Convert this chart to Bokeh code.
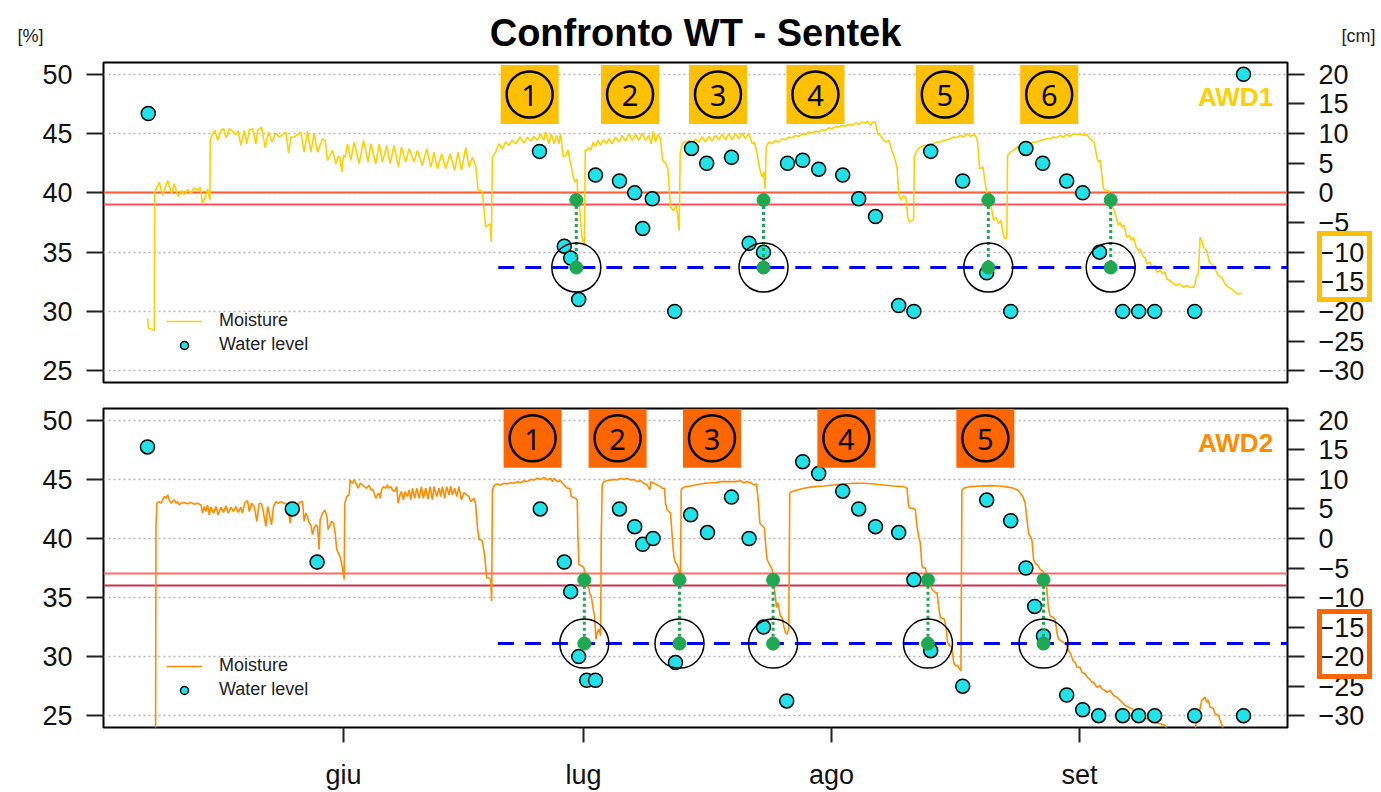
from bokeh.plotting import figure
from bokeh.models import (Range1d, LinearAxis, FixedTicker, Label, Legend, LegendItem, Div)
from bokeh.layouts import column
from bokeh.embed import file_html
from bokeh.resources import INLINE
from bokeh.core.properties import value

# ------------------------------------------------------------------ data
# x values are day-of-year (1 Jun = 152)
month_ticks = [152, 182, 213, 244]
month_labels = ["giu", "lug", "ago", "set"]
pct_ticks = [25, 30, 35, 40, 45, 50]
cm_ticks = [-30, -25, -20, -15, -10, -5, 0, 5, 10, 15, 20]
title_text = "Confronto WT - Sentek"
left_unit = "[%]"
right_unit = "[cm]"

# ---- AWD1 (top panel)
awd1_moisture = [
    (127.52, 29.4), (127.6, 28.6), (128.35, 28.4), (128.4, 40.06), (128.97, 40.9), (129.39, 39.78),
    (130.02, 41.05), (130.52, 39.92), (130.84, 40.77), (131.34, 39.7), (131.77, 40.2), (132.09, 39.86),
    (132.52, 40.26), (132.93, 39.97), (133.34, 40.43), (133.77, 40.2), (134.09, 40.48), (134.39, 39.08),
    (134.8, 39.78), (135.01, 40.35), (135.3, 39.36), (135.34, 44.43),
    (135.64, 44.99), (135.93, 45.27), (136.26, 44.43), (136.68, 45.27), (137.01, 45.41), (137.34, 44.65),
    (137.72, 45.41), (138.13, 45.21), (138.47, 44.93), (138.84, 45.21), (139.17, 44.0), (139.59, 45.27),
    (139.92, 44.14), (140.22, 45.27), (140.63, 45.41), (141.05, 44.14), (141.26, 45.27), (141.76, 45.55),
    (142.21, 43.81), (142.63, 45.13), (143.05, 44.29), (143.55, 45.05), (143.96, 44.71), (144.38, 44.93),
    (144.8, 45.13), (145.13, 43.36), (145.42, 44.71), (145.84, 44.71), (146.25, 44.93), (146.67, 45.13),
    (147.08, 43.44), (147.5, 45.21), (147.92, 43.44), (148.33, 44.99), (148.75, 43.44), (149.38, 44.57),
    (149.71, 44.43), (150.0, 42.74), (150.42, 43.3), (150.62, 43.58), (151.04, 42.46), (151.33, 43.02),
    (151.54, 43.02), (151.79, 41.75), (152.0, 43.16), (152.21, 43.02), (152.5, 44.14), (152.91, 42.74),
    (153.33, 44.29), (153.95, 42.46), (154.5, 44.43), (155.08, 42.6), (155.41, 44.14), (156.04, 42.46),
    (156.45, 44.14), (156.87, 42.6), (157.41, 44.0), (157.83, 42.46), (158.32, 44.0), (158.87, 42.17),
    (159.24, 43.86), (159.78, 42.6), (160.2, 43.72), (160.82, 42.6), (161.24, 43.58), (161.86, 42.31),
    (162.41, 43.72), (162.91, 42.17), (163.32, 43.44), (163.74, 42.03), (164.28, 43.3), (164.78, 42.03),
    (165.32, 43.3), (165.9, 41.89), (166.32, 43.44), (166.74, 41.89), (167.28, 43.81), (167.69, 42.17),
    (168.11, 43.02), (168.53, 42.31), (168.82, 40.2), (169.15, 40.2), (169.36, 40.06), (169.77, 37.11),
    (169.98, 37.25), (170.31, 37.39), (170.48, 35.84), (170.61, 43.02), (171.02, 43.44), (171.44, 44.14),
    (171.86, 43.72), (172.27, 44.29), (172.69, 44.0), (173.1, 44.43), (173.52, 44.14), (174.06, 44.71),
    (174.56, 44.2), (174.98, 44.71), (175.39, 44.37), (175.81, 44.76), (176.22, 44.43), (176.64, 44.99),
    (177.06, 44.43), (177.27, 45.13), (177.68, 44.14), (177.97, 44.99), (178.31, 44.14), (178.64, 44.85),
    (178.93, 44.14), (179.14, 44.99), (179.47, 43.02), (179.81, 43.16), (180.06, 43.64), (180.39, 42.46),
    (180.72, 41.33), (180.97, 40.91), (181.18, 41.19), (181.3, 39.5), (181.55, 38.51), (181.8, 36.26),
    (182.1, 35.5), (182.22, 43.64),
    (182.39, 43.58), (182.68, 43.86), (182.89, 43.58), (183.22, 44.29), (183.51, 43.92), (183.8, 44.43),
    (184.14, 44.0), (184.47, 44.48), (184.88, 44.14), (185.18, 44.57), (185.59, 44.14), (186.01, 44.71),
    (186.42, 44.29), (186.84, 44.85), (187.26, 44.37), (187.67, 44.99), (188.09, 44.43), (188.51, 44.93),
    (188.92, 44.43), (189.34, 45.05), (189.75, 44.43), (190.17, 44.85), (190.46, 44.14), (190.71, 45.21),
    (191.0, 44.29), (191.3, 44.93), (191.63, 44.57), (191.88, 42.74), (192.29, 42.46), (192.54, 42.03),
    (192.88, 38.8), (193.21, 38.51), (193.63, 38.94), (193.96, 36.83), (194.09, 43.3),
    (194.33, 44.14), (194.75, 44.29), (195.17, 44.43), (195.58, 44.14), (196.0, 44.57), (196.42, 44.29),
    (196.83, 44.71), (197.25, 44.29), (197.67, 44.76), (198.08, 44.37), (198.5, 44.85), (198.91, 44.48),
    (199.33, 44.93), (199.75, 44.48), (200.16, 44.99), (200.58, 44.48), (201.0, 44.99), (201.41, 44.57),
    (201.83, 45.05), (202.24, 44.57), (202.66, 45.05), (203.08, 44.14), (203.37, 44.29), (203.7, 43.3),
    (204.03, 42.03), (204.33, 41.33), (204.54, 41.75), (204.7, 40.34), (204.83, 43.86),
    (205.16, 44.29), (205.58, 44.14), (205.99, 44.43), (206.41, 44.29), (206.82, 44.57), (207.24, 44.48),
    (207.66, 44.71), (208.07, 44.65), (208.49, 44.85), (208.91, 44.76), (209.32, 44.99), (209.74, 44.9),
    (210.15, 45.13), (210.57, 45.05), (210.99, 45.21), (211.4, 45.13), (211.82, 45.33), (212.24, 45.27),
    (212.65, 45.5), (213.07, 45.41), (213.48, 45.61), (213.9, 45.55), (214.32, 45.69), (214.73, 45.61),
    (215.15, 45.78), (215.57, 45.69), (215.98, 45.89), (216.4, 45.78), (216.81, 45.97), (217.23, 45.89),
    (217.52, 46.06), (217.86, 45.69), (218.19, 45.97), (218.48, 45.97), (218.77, 44.99), (219.11, 44.85),
    (219.52, 44.43), (219.86, 44.29), (220.15, 44.43), (220.56, 43.58), (220.85, 43.02), (221.19, 42.17),
    (221.4, 39.92), (221.69, 39.36), (222.02, 39.78), (222.35, 39.5), (222.52, 37.95), (222.77, 37.53),
    (223.06, 37.67), (223.27, 37.81), (223.35, 43.02), (223.68, 43.58), (224.1, 43.86), (224.52, 44.0),
    (224.93, 44.0), (225.35, 44.14), (225.77, 44.14), (226.18, 44.29), (226.6, 44.29), (227.01, 44.43),
    (227.43, 44.48), (227.85, 44.57), (228.26, 44.71), (228.68, 44.65), (229.1, 44.85), (229.51, 44.71),
    (229.93, 44.99), (230.35, 44.76), (230.76, 44.93), (231.09, 44.71), (231.26, 44.29), (231.51, 42.03),
    (231.93, 42.17), (232.22, 40.77), (232.51, 39.64), (232.84, 39.08), (233.05, 38.51), (233.26, 37.67),
    (233.59, 37.95), (233.88, 37.39), (234.17, 37.67), (234.51, 36.4), (234.72, 36.12), (234.92, 36.26),
    (235.01, 43.16), (235.34, 43.44), (235.76, 43.58), (236.17, 43.86), (236.59, 43.86), (237.01, 44.0),
    (237.42, 44.14), (237.84, 44.14), (238.26, 44.29), (238.67, 44.29), (239.09, 44.43), (239.5, 44.48),
    (239.92, 44.57), (240.34, 44.57), (240.75, 44.71), (241.17, 44.65), (241.59, 44.85), (242.0, 44.71),
    (242.42, 44.93), (242.83, 44.76), (243.25, 44.99), (243.67, 44.93), (244.08, 44.99), (244.5, 44.85),
    (244.92, 44.93), (245.33, 44.57), (245.54, 44.43), (245.83, 44.29), (246.17, 43.02), (246.37, 42.6),
    (246.58, 42.74), (247.0, 40.34), (247.33, 40.2), (247.62, 40.2), (247.83, 39.64), (248.04, 38.94),
    (248.33, 38.51), (248.58, 37.95), (248.87, 37.25), (249.08, 37.53), (249.29, 37.11), (249.58, 37.25),
    (249.91, 36.26), (250.24, 36.4), (250.54, 35.98), (250.74, 36.26), (251.08, 35.42), (251.37, 35.14),
    (251.58, 35.28), (251.99, 34.57), (252.2, 34.57), (252.41, 34.01), (252.83, 34.15), (253.03, 33.73),
    (253.45, 33.87), (253.66, 33.31), (254.08, 33.45), (254.41, 33.17), (254.7, 33.31), (254.91, 32.74),
    (255.32, 32.6), (255.74, 32.32), (256.16, 32.18), (256.57, 32.32), (256.99, 32.04), (257.41, 32.18),
    (257.82, 32.04), (258.24, 32.04), (258.45, 32.32), (258.57, 32.88), (258.86, 33.16), (259.07, 36.26),
    (259.28, 35.98), (259.49, 35.42), (259.9, 35.14), (260.24, 34.15), (260.53, 34.01), (260.94, 33.59),
    (261.36, 33.02), (261.78, 32.88), (262.19, 32.32), (262.61, 32.04), (263.03, 31.9), (263.44, 31.62),
    (263.86, 31.48), (264.27, 31.53),
]
awd1_level_day = [127.6, 176.5, 179.6, 180.4, 181.4, 183.5, 186.5, 188.4, 189.4, 190.6, 193.4, 195.5,
                  197.4, 200.5, 202.7, 204.5, 207.5, 209.4, 211.4, 214.4, 216.4, 218.5, 221.4, 223.3,
                  225.4, 229.4, 232.4, 235.4, 237.3, 239.4, 242.4, 244.4, 246.5, 249.4, 251.4, 253.4,
                  258.4, 264.5]
awd1_level_cm = [13.4, 7.0, -9.0, -11.0, -18.0, 3.0, 2.0, 0.0, -6.0, -1.0, -20.0, 7.5,
                 5.0, 6.0, -8.5, -10.0, 5.0, 5.5, 4.0, 3.0, -1.0, -4.0, -19.0, -20.0,
                 7.0, 2.0, -13.5, -20.0, 7.5, 5.0, 2.0, 0.0, -10.0, -20.0, -20.0, -20.0,
                 -20.0, 20.0]
awd1_thresholds = [40.0, 39.0]
awd1_event_day = [181.1, 204.5, 232.6, 247.9]
awd1_event_moist = 39.4
awd1_wt_cm = -12.6
awd1_wt_start = 171.35
awd1_badge_day = [175.27, 187.82, 198.81, 210.99, 227.16, 240.21]
awd1_badge_num = ["1", "2", "3", "4", "5", "6"]
awd1_badge_pct = 48.3
awd1_axis_box_cm = (-6.9, -18.0)

# ---- AWD2 (bottom panel)
awd2_moisture = [
    (127.5, 20.0), (128.5, 20.0), (128.56, 41.02), (128.68, 42.98), (128.97, 43.12), (129.18, 42.98),
    (129.39, 43.27), (129.6, 43.55), (129.81, 43.4), (130.02, 43.69), (130.22, 43.27), (130.43, 42.98),
    (130.64, 43.12), (130.85, 43.27), (131.06, 42.98), (131.26, 43.12), (131.47, 42.84), (131.68, 42.98),
    (132.1, 43.04), (132.51, 42.93), (132.93, 43.04), (133.35, 42.9), (133.76, 42.98), (134.18, 42.84),
    (134.39, 42.14), (134.6, 42.7), (134.8, 42.28), (135.01, 42.84), (135.22, 42.0), (135.43, 42.65),
    (135.76, 42.14), (136.05, 42.7), (136.34, 42.0), (136.68, 42.65), (137.01, 42.2), (137.3, 42.76),
    (137.59, 42.14), (137.93, 42.65), (138.26, 42.28), (138.55, 42.7), (138.84, 42.2), (139.17, 42.65),
    (139.38, 42.14), (139.67, 43.04), (140.01, 43.21), (140.22, 42.28), (140.51, 42.98), (140.84, 42.7),
    (141.17, 41.44), (141.46, 42.98), (141.76, 42.93), (142.01, 42.14), (142.3, 41.02), (142.51, 42.7),
    (142.71, 42.14), (143.0, 41.16), (143.25, 42.7), (143.55, 43.12), (143.84, 42.98), (144.17, 43.12),
    (144.59, 42.98), (145.0, 42.84), (145.34, 41.3), (145.63, 42.7), (146.04, 42.84), (146.25, 42.42),
    (146.46, 43.04), (146.88, 43.12), (147.08, 41.44), (147.29, 42.14), (147.5, 41.86), (147.71, 41.3),
    (147.92, 41.16), (148.13, 40.32), (148.33, 40.88), (148.54, 41.16), (148.75, 41.02), (148.96, 39.06),
    (149.08, 41.58), (149.37, 42.14), (149.67, 42.42), (149.92, 41.86), (150.08, 40.74), (150.33, 41.16),
    (150.5, 41.44), (150.75, 41.3), (150.96, 40.46), (151.16, 39.06), (151.46, 38.64), (151.66, 38.22),
    (151.87, 37.51), (152.08, 36.53), (152.16, 42.98), (152.41, 43.55), (152.7, 43.69), (152.83, 44.95),
    (153.12, 44.67), (153.33, 44.95), (153.66, 44.53), (153.83, 44.25), (154.08, 44.67), (154.37, 44.53),
    (154.58, 44.39), (154.91, 44.25), (155.2, 44.53), (155.41, 44.11), (155.62, 44.16), (155.83, 43.83),
    (156.04, 43.4), (156.24, 43.69), (156.45, 43.83), (156.58, 43.4), (156.74, 44.11), (156.99, 44.39),
    (157.28, 44.25), (157.49, 44.53), (157.7, 44.25), (157.91, 44.39), (158.12, 44.11), (158.41, 43.97),
    (158.66, 44.39), (158.82, 42.98), (159.07, 43.69), (159.24, 43.97), (159.49, 43.27), (159.7, 43.97),
    (159.99, 43.55), (160.2, 44.11), (160.41, 43.27), (160.62, 44.25), (160.91, 43.4), (161.16, 44.25),
    (161.45, 43.4), (161.74, 44.39), (161.99, 43.4), (162.28, 44.25), (162.57, 43.32), (162.82, 44.39),
    (163.11, 43.27), (163.32, 44.39), (163.65, 43.55), (163.95, 44.25), (164.15, 43.55), (164.36, 44.39),
    (164.65, 43.4), (164.9, 44.39), (165.19, 43.69), (165.4, 44.44), (165.61, 43.69), (165.9, 44.25),
    (166.15, 43.55), (166.44, 44.39), (166.73, 43.27), (167.07, 43.88), (167.4, 43.69), (167.69, 43.55),
    (167.9, 43.12), (168.11, 43.27), (168.32, 43.4), (168.53, 42.84), (168.73, 41.02), (168.94, 39.9),
    (169.15, 39.9), (169.36, 39.76), (169.65, 38.5), (169.9, 36.67), (170.19, 36.67), (170.4, 36.53),
    (170.52, 34.71), (170.61, 44.11), (170.9, 44.53), (171.23, 44.61), (171.65, 44.53), (172.06, 44.67),
    (172.48, 44.61), (172.9, 44.72), (173.31, 44.67), (173.73, 44.81), (174.15, 44.72),
    (174.56, 44.89), (174.98, 44.81), (175.39, 45.0), (175.81, 44.95), (176.22, 45.09), (176.64, 45.0),
    (177.06, 45.17), (177.47, 44.95), (177.89, 45.09), (178.1, 44.81), (178.31, 45.09), (178.72, 44.81),
    (179.14, 44.89), (179.35, 44.67), (179.56, 44.53), (179.76, 44.39), (179.97, 44.25), (180.3, 44.25),
    (180.47, 43.55), (180.72, 43.49), (181.01, 43.4), (181.22, 43.27), (181.3, 40.18), (181.43, 37.79),
    (181.85, 37.65), (182.05, 37.51), (182.26, 36.53), (182.47, 35.97), (182.68, 35.83), (182.8, 35.27),
    (182.97, 35.13), (183.22, 34.0), (183.39, 33.44), (183.55, 31.48), (183.72, 32.04), (183.93, 32.32),
    (184.14, 31.76), (184.22, 40.18), (184.34, 44.53), (184.55, 44.81), (184.88, 44.89), (185.38, 44.95),
    (185.8, 45.0), (186.22, 44.95), (186.63, 45.09), (187.05, 45.0), (187.47, 45.09), (187.88, 44.95),
    (188.3, 45.0), (188.71, 44.81), (189.13, 44.89), (189.55, 44.67), (189.96, 44.53), (190.17, 44.25),
    (190.3, 44.11), (190.38, 44.81), (190.8, 44.67), (191.21, 44.53), (191.63, 44.39), (191.84, 44.25),
    (192.13, 44.25), (192.25, 42.98), (192.46, 42.42), (192.67, 42.28), (192.88, 42.14), (193.09, 40.18),
    (193.29, 38.5), (193.5, 37.93), (193.71, 37.79), (193.92, 37.37), (194.04, 36.81), (194.13, 36.81),
    (194.21, 44.11), (194.34, 44.25), (194.75, 44.39), (195.38, 44.44), (196.0, 44.53), (196.62, 44.61),
    (197.25, 44.67), (197.87, 44.72), (198.5, 44.72), (199.12, 44.81), (199.75, 44.81), (200.37, 44.81),
    (200.99, 44.81), (201.62, 44.89), (202.04, 44.72), (202.45, 44.81), (202.87, 44.72), (203.29, 44.53),
    (203.62, 44.61), (203.79, 43.55), (203.91, 42.7), (204.04, 41.3), (204.2, 41.16), (204.45, 41.02),
    (204.62, 40.88), (204.78, 39.34), (204.95, 38.22), (205.16, 37.93), (205.37, 37.65), (205.58, 37.37),
    (205.78, 36.53), (205.87, 35.69), (205.99, 35.13), (206.12, 34.15), (206.28, 34.57), (206.45, 34.0),
    (206.62, 33.44), (206.82, 33.3), (207.03, 32.6), (207.24, 32.04), (207.45, 31.9), (207.66, 32.32),
    (207.78, 43.83), (208.07, 43.97), (208.7, 44.11), (209.53, 44.25), (210.78, 44.39), (212.03, 44.44),
    (213.28, 44.53), (214.53, 44.61), (215.78, 44.67), (217.03, 44.67), (218.27, 44.61), (219.52, 44.53),
    (220.77, 44.44), (222.02, 44.39), (222.44, 44.25), (222.64, 42.7), (222.85, 42.56), (223.27, 42.56),
    (223.48, 42.42), (223.69, 41.02), (223.89, 40.18), (224.1, 39.62), (224.31, 37.65), (224.52, 37.51),
    (224.73, 37.51), (224.94, 36.81), (225.14, 36.53), (225.35, 36.11), (225.56, 35.69), (225.77, 35.55),
    (225.98, 35.41), (226.19, 35.41), (226.39, 34.29), (226.6, 33.3), (226.93, 33.22), (227.1, 33.16),
    (227.35, 32.32), (227.51, 31.2), (227.76, 30.92), (228.06, 30.78), (228.26, 29.52), (228.47, 29.24),
    (228.76, 29.24), (229.01, 28.95), (229.18, 28.81), (229.3, 44.11), (229.51, 44.25), (230.34, 44.39),
    (231.59, 44.44), (232.84, 44.47), (233.88, 44.44), (234.72, 44.39), (235.76, 44.25), (236.38, 44.05),
    (236.59, 43.83), (236.92, 43.55), (237.21, 42.98), (237.34, 42.14), (237.63, 40.46), (238.05, 39.9),
    (238.26, 38.22), (238.46, 37.93), (238.67, 37.79), (238.88, 37.65), (239.09, 37.37), (239.42, 37.23),
    (239.59, 36.95), (239.75, 36.53), (239.92, 35.69), (240.13, 34.0), (240.34, 33.44), (240.75, 33.3),
    (240.96, 33.16), (241.17, 32.04), (241.38, 31.48), (241.71, 31.34), (242.0, 31.2), (242.42, 30.92),
    (242.63, 30.5), (242.92, 30.22), (243.17, 29.66), (243.46, 29.52), (243.67, 29.1), (244.08, 29.1),
    (244.29, 28.67), (244.71, 28.53), (245.0, 28.25), (245.25, 28.11), (245.54, 27.83), (245.75, 27.83),
    (246.17, 27.41), (246.58, 27.55), (246.79, 27.27), (247.21, 27.13), (247.41, 26.99), (247.83, 27.13),
    (248.25, 26.71), (248.66, 26.57), (248.87, 26.43), (249.29, 26.15), (249.7, 25.87), (250.12, 25.73),
    (250.54, 25.59), (250.95, 25.31), (251.58, 24.89), (252.41, 24.75), (253.03, 24.47), (254.07, 24.32),
    (254.7, 24.18), (254.91, 23.9), (256.6, 23.3), (258.45, 23.76), (258.66, 24.75), (259.07, 25.59),
    (259.28, 26.29), (259.7, 26.57), (259.9, 26.15), (260.11, 26.29), (260.32, 25.73), (260.74, 25.59),
    (260.94, 25.17), (261.36, 25.03), (261.65, 24.47), (261.99, 23.9), (262.8, 23.0), (264.2, 22.5),
]
awd2_level_day = [127.5, 145.6, 148.7, 176.6, 179.6, 180.4, 181.4, 182.4, 183.5, 186.5, 188.4, 189.4,
                  190.7, 193.5, 195.4, 197.5, 200.5, 202.7, 204.5, 207.4, 209.4, 211.4, 214.4, 216.4,
                  218.5, 221.4, 223.3, 225.4, 229.4, 232.4, 235.4, 237.3, 238.4, 239.5, 242.4, 244.4,
                  246.4, 249.4, 251.4, 253.4, 258.4, 264.5]
awd2_level_cm = [15.5, 5.0, -4.0, 5.0, -4.0, -9.0, -20.0, -24.0, -24.0, 5.0, 2.0, -1.0,
                 0.0, -21.0, 4.0, 1.0, 7.0, 0.0, -15.0, -27.5, 13.0, 11.0, 8.0, 5.0,
                 2.0, 1.0, -7.0, -19.0, -25.0, 6.5, 3.0, -5.0, -11.5, -16.5, -26.5, -29.0,
                 -30.0, -30.0, -30.0, -30.0, -30.0, -30.0]
awd2_thresholds = [37.0, 36.0]
awd2_event_day = [182.1, 194.0, 205.7, 225.06, 239.5]
awd2_event_moist = 36.5
awd2_wt_cm = -17.8
awd2_wt_start = 171.3
awd2_badge_day = [175.64, 186.26, 198.06, 214.86, 232.23]
awd2_badge_num = ["1", "2", "3", "4", "5"]
awd2_badge_pct = 48.48
awd2_axis_box_cm = (-12.2, -23.1)

# ------------------------------------------------------------------ style
FONT = "Liberation Sans"
W = 1380
X0, X1 = 122.0, 270.0
PCT0, PCT1 = 24.0, 51.0
CM0, CM1 = -32.0, 22.0
B_LEFT, B_RIGHT = 103, 93
HEADER_H = 60
TOP_H, TOP_BT, TOP_BB = 335, 2, 13
BOT_H, BOT_BT, BOT_BB = 397, 13, 63


def cm_to_pct(c):
    return (c - 20.0) / 2.0 + 50.0


def make_panel(name, moisture, level_day, level_cm, thresholds, thr_colors,
               event_day, event_moist, wt_cm, wt_start,
               badge_day, badge_num, badge_pct, badge_color,
               line_color, height, b_top, b_bottom, show_x):
    p = figure(width=W, height=height, x_range=Range1d(X0, X1), y_range=Range1d(PCT0, PCT1),
               output_backend="svg", toolbar_location=None,
               x_axis_location="below" if show_x else None, y_axis_location="left",
               min_border_left=B_LEFT, min_border_right=B_RIGHT,
               min_border_top=b_top, min_border_bottom=b_bottom,
               background_fill_color="white", border_fill_color="white",
               outline_line_color="black", outline_line_width=2)
    p.extra_y_ranges = {"cm": Range1d(CM0, CM1)}

    ax_l = p.yaxis[0]
    ax_l.ticker = FixedTicker(ticks=pct_ticks)
    ax_r = LinearAxis(y_range_name="cm", ticker=FixedTicker(ticks=cm_ticks))
    p.add_layout(ax_r, "right")
    for ax in (ax_l, ax_r):
        ax.axis_line_color = None
        ax.major_tick_in = 0
        ax.major_tick_out = 17
        ax.major_tick_line_width = 2
        ax.major_tick_line_color = "#222222"
        ax.minor_tick_line_color = None
        ax.major_label_text_font = FONT
        ax.major_label_text_font_size = "27px"
        ax.major_label_text_color = "#111111"
        ax.major_label_standoff = 14
    if show_x:
        xa = p.xaxis[0]
        xa.ticker = FixedTicker(ticks=month_ticks)
        xa.major_label_overrides = {t: lab for t, lab in zip(month_ticks, month_labels)}
        xa.axis_line_color = None
        xa.major_tick_in = 0
        xa.major_tick_out = 15
        xa.major_tick_line_width = 2
        xa.major_tick_line_color = "#222222"
        xa.minor_tick_line_color = None
        xa.major_label_text_font = FONT
        xa.major_label_text_font_size = "27px"
        xa.major_label_text_color = "#111111"
        xa.major_label_standoff = 17

    p.xgrid.visible = False
    p.ygrid.ticker = FixedTicker(ticks=pct_ticks)
    p.ygrid.grid_line_color = "#b4b4b4"
    p.ygrid.grid_line_dash = "2 3"
    p.ygrid.grid_line_width = 1.5

    # threshold lines
    p.hspan(y=thresholds, line_color=thr_colors, line_width=2)

    # moisture line
    mx = [d for d, _ in moisture]
    my = [v for _, v in moisture]
    r_line = p.line(mx, my, line_color=line_color, line_width=1.6)

    # water-table threshold (blue dashed)
    p.segment(x0=[wt_start], y0=[wt_cm], x1=[X1], y1=[wt_cm], y_range_name="cm",
              line_color="#0000ff", line_width=3, line_dash="16 11")

    # water level points
    r_pts = p.scatter(level_day, level_cm, y_range_name="cm", marker="circle", size=14,
                      fill_color="#1fe3e8", line_color="black", line_width=1.5)

    # numbered badges
    n = len(badge_day)
    p.rect(x=badge_day, y=[badge_pct] * n, width=58, height=59,
           width_units="screen", height_units="screen",
           fill_color=badge_color, line_color=None)
    p.scatter(badge_day, [badge_pct] * n, marker="circle", size=46,
              fill_color=None, line_color="black", line_width=2.5)
    p.text(badge_day, [badge_pct] * n, text=badge_num, text_align="center",
           text_baseline="middle", text_font=value("Noto Sans"), text_font_size="29px",
           text_color="black", y_offset=1)

    # events: moisture threshold reached -> water table
    m = len(event_day)
    wt_pct = cm_to_pct(wt_cm)
    p.segment(x0=event_day, y0=[event_moist] * m, x1=event_day, y1=[wt_pct] * m,
              line_color="#1da851", line_width=3, line_dash="3 3")
    p.scatter(event_day, [event_moist] * m, marker="circle", size=13,
              fill_color="#1da851", line_color="#1da851", line_width=1)
    p.scatter(event_day, [wt_cm] * m, y_range_name="cm", marker="circle", size=13,
              fill_color="#1da851", line_color="#1da851", line_width=1)
    p.scatter(event_day, [wt_cm] * m, y_range_name="cm", marker="circle", size=49,
              fill_color=None, line_color="black", line_width=1.5)

    # panel name
    p.add_layout(Label(x=268.2, y=48.1, text=name, text_align="right",
                       text_baseline="middle", text_font=FONT, text_font_size="26px",
                       text_font_style="bold", text_color=line_color))

    legend = Legend(items=[LegendItem(label="Moisture", renderers=[r_line]),
                           LegendItem(label="Water level", renderers=[r_pts])],
                    location=(63, 27), orientation="vertical",
                    label_text_font=FONT, label_text_font_size="18px",
                    label_text_color="#222222",
                    glyph_width=36, glyph_height=20, label_height=20, label_standoff=17,
                    spacing=3, padding=10, margin=0,
                    border_line_color=None, background_fill_alpha=0)
    p.add_layout(legend)
    return p


def axis_box(canvas_top, b_top, height, b_bottom, box_cm, color):
    """Outline drawn around two tick labels of the right axis (outside the plot frame)."""
    frame_top = canvas_top + b_top
    frame_h = height - b_top - b_bottom
    y0 = frame_top + (CM1 - box_cm[0]) / (CM1 - CM0) * frame_h
    y1 = frame_top + (CM1 - box_cm[1]) / (CM1 - CM0) * frame_h
    lw = 5
    left = W - B_RIGHT + 30
    return Div(text="", width=55, height=int(round(y1 - y0 + lw)),
               styles={"position": "absolute", "left": f"{left}px",
                       "top": f"{y0 - lw / 2:.1f}px",
                       "border": f"{lw}px solid {color}", "box-sizing": "border-box",
                       "background": "transparent", "pointer-events": "none",
                       "z-index": "10", "margin": "0", "padding": "0"})


# header: title plus the unit labels of both y axes
header = figure(width=W, height=HEADER_H, x_range=Range1d(0, 1), y_range=Range1d(0, 1),
                output_backend="svg", toolbar_location=None,
                x_axis_location=None, y_axis_location=None,
                min_border_left=B_LEFT, min_border_right=B_RIGHT,
                min_border_top=10, min_border_bottom=0,
                outline_line_color=None, background_fill_color="white", border_fill_color="white")
header.grid.visible = False
header.text(x=[0.5], y=[0.56], text=[title_text], text_align="center",
            text_baseline="middle", text_font=value(FONT), text_font_size="38px",
            text_font_style="bold", text_color="black")
for side, lab, standoff in (("left", left_unit, 60), ("right", right_unit, 54)):
    ua = LinearAxis(ticker=FixedTicker(ticks=[]), axis_label=lab,
                    axis_label_orientation="horizontal", axis_label_standoff=standoff,
                    axis_label_text_font=FONT, axis_label_text_font_size="18px",
                    axis_label_text_font_style="normal", axis_label_text_color="#222222",
                    axis_line_color=None, major_tick_line_color=None,
                    minor_tick_line_color=None, major_tick_out=0, major_tick_in=0,
                    major_label_text_font_size="0px")
    header.add_layout(ua, side)

top = make_panel("AWD1", awd1_moisture, awd1_level_day, awd1_level_cm, awd1_thresholds,
                 ["#ff5a3c", "#ff4f5e"], awd1_event_day, awd1_event_moist, awd1_wt_cm,
                 awd1_wt_start, awd1_badge_day, awd1_badge_num, awd1_badge_pct, "#ffc000",
                 "#ffd000", TOP_H, TOP_BT, TOP_BB, False)

bottom = make_panel("AWD2", awd2_moisture, awd2_level_day, awd2_level_cm, awd2_thresholds,
                    ["#ff6b6b", "#c8374f"], awd2_event_day, awd2_event_moist, awd2_wt_cm,
                    awd2_wt_start, awd2_badge_day, awd2_badge_num, awd2_badge_pct, "#ff6600",
                    "#ff8c00", BOT_H, BOT_BT, BOT_BB, True)

box1 = axis_box(HEADER_H, TOP_BT, TOP_H, TOP_BB, awd1_axis_box_cm, "#ffc000")
box2 = axis_box(HEADER_H + TOP_H, BOT_BT, BOT_H, BOT_BB, awd2_axis_box_cm, "#ff6600")

layout = column(header, top, bottom, box1, box2, spacing=0)
open("out.html", "w").write(file_html(layout, INLINE))
